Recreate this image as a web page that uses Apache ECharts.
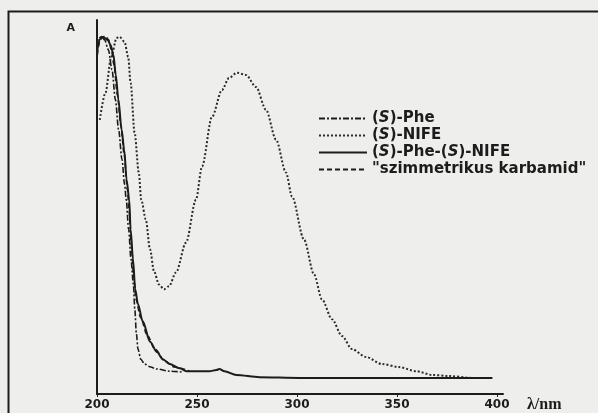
<!DOCTYPE html>
<html>
<head>
<meta charset="utf-8">
<script src="https://cdn.jsdelivr.net/npm/echarts@6/dist/echarts.min.js"></script>
<style>
  html, body { margin: 0; padding: 0; background: #eeeeec; }
  #main { width: 598px; height: 413px; }
</style>
</head>
<body>
<div id="main"></div>
<script>
// UV spektrumok: [lambda (nm), A]
var phe = [
  [200, 0.933], [200.8, 0.952], [202.3, 0.955], [203.8, 0.947], [205.7, 0.92],
  [207.5, 0.867], [209.2, 0.787], [210.8, 0.707], [212.5, 0.627], [213.8, 0.56],
  [214.6, 0.52], [215.8, 0.44], [217, 0.36], [218.2, 0.293], [218.9, 0.227],
  [219.7, 0.16], [220.5, 0.12], [221.9, 0.093], [223.8, 0.08], [226.8, 0.072],
  [229.7, 0.067], [236.3, 0.061], [242.3, 0.059]
];
var nife = [
  [201.4, 0.733], [204.2, 0.805], [207.1, 0.901], [209.8, 0.952], [211.3, 0.955],
  [213.8, 0.941], [215.6, 0.901], [216.8, 0.832], [218.8, 0.699], [220.9, 0.592],
  [222.1, 0.52], [224.4, 0.467], [226.5, 0.387], [228.5, 0.328], [231, 0.293],
  [233.5, 0.28], [236, 0.288], [239.5, 0.325], [244.5, 0.405], [249.5, 0.52],
  [252.5, 0.608], [257.5, 0.741], [262.5, 0.813], [266, 0.845], [270, 0.859],
  [274.5, 0.853], [279.5, 0.821], [284.5, 0.76], [289.5, 0.68], [294.5, 0.592],
  [297.5, 0.528], [303.5, 0.413], [308.5, 0.32], [312.5, 0.253], [317.5, 0.2],
  [322.5, 0.155], [327.5, 0.12], [334.5, 0.099], [342.5, 0.08], [351, 0.072],
  [359.5, 0.061], [367.5, 0.051], [376, 0.048], [387.5, 0.043], [391, 0.043]
];
var phenife = [
  [200.2, 0.92], [201.3, 0.947], [202.3, 0.955], [203.8, 0.952], [205.3, 0.947],
  [206.8, 0.933], [208.2, 0.907], [209.4, 0.853], [210.7, 0.787], [212.3, 0.707],
  [213.6, 0.653], [214.8, 0.573], [216.1, 0.52], [216.8, 0.44], [218, 0.36],
  [219.1, 0.28], [220.5, 0.24], [222.8, 0.195], [226.6, 0.139], [230, 0.112],
  [232.9, 0.093], [236.3, 0.08], [241.3, 0.069], [244.7, 0.061], [251.2, 0.061],
  [256.2, 0.061], [259.7, 0.064], [261.2, 0.067], [263.7, 0.061], [269.7, 0.051],
  [281.2, 0.045], [301.2, 0.043], [351.2, 0.043], [397.7, 0.043]
];
var karbamid = [
  [200.2, 0.907], [201.3, 0.941], [202.8, 0.955], [204.3, 0.957], [205.8, 0.947],
  [207.2, 0.92], [208.5, 0.88], [210.2, 0.8], [211.9, 0.72], [213.6, 0.64],
  [215.2, 0.547], [216, 0.493], [217.1, 0.4], [218.3, 0.32], [219.5, 0.253],
  [221.8, 0.205], [225.1, 0.157], [229, 0.12], [233.9, 0.088], [238.8, 0.072],
  [246.2, 0.061]
];
var names = ['(S)-Phe', '(S)-NIFE', '(S)-Phe-(S)-NIFE', '"szimmetrikus karbamid"'];
var tickLabels = [200, 250, 300, 350, 400];

var myChart = echarts.init(document.getElementById('main'));

var ink = '#1c1c1c';

var option = {
  backgroundColor: '#eeeeec',
  animation: false,
  grid: { left: 97, top: 20, width: 406, height: 375 },
  legend: {
    orient: 'vertical',
    left: 313,
    top: 106,
    itemWidth: 48,
    itemHeight: 15,
    itemGap: 2,
    data: names,
    itemStyle: { opacity: 0 },
    formatter: function (n) {
      return n.replace(/\(S\)/g, '({it|S})');
    },
    textStyle: {
      fontFamily: 'DejaVu Sans',
      fontWeight: 'bold',
      fontSize: 15,
      lineHeight: 15,
      color: ink,
      rich: {
        it: { fontFamily: 'DejaVu Sans', fontWeight: 'bold', fontStyle: 'italic', fontSize: 15, color: ink }
      }
    }
  },
  // keret
  graphic: [{
    type: 'rect',
    shape: { x: 8.5, y: 11.5, width: 640, height: 440 },
    style: { fill: null, stroke: ink, lineWidth: 2 },
    silent: true
  }],
  xAxis: {
    type: 'value',
    min: 200,
    max: 403,
    name: 'λ/nm',
    nameLocation: 'end',
    nameGap: 24,
    nameTextStyle: {
      fontFamily: 'Liberation Serif',
      fontWeight: 'bold',
      fontSize: 16,
      color: ink,
      verticalAlign: 'top',
      padding: [3, 0, 0, 0]
    },
    splitLine: { show: false },
    axisLine: { lineStyle: { color: ink, width: 2 } },
    axisTick: { show: true, length: 3, customValues: tickLabels, lineStyle: { color: ink } },
    axisLabel: {
      customValues: tickLabels,
      margin: 5,
      fontFamily: 'DejaVu Sans',
      fontWeight: 'bold',
      fontSize: 12,
      color: ink
    }
  },
  yAxis: {
    type: 'value',
    min: 0,
    max: 1,
    name: 'A',
    nameLocation: 'end',
    nameGap: -8,
    nameTextStyle: {
      fontFamily: 'DejaVu Sans',
      fontWeight: 'bold',
      fontSize: 11,
      color: ink,
      align: 'right',
      verticalAlign: 'middle',
      padding: [0, 22, 0, 0]
    },
    splitLine: { show: false },
    axisTick: { show: false },
    axisLabel: { show: false },
    axisLine: { onZero: false, lineStyle: { color: ink, width: 2 } }
  },
  series: [
    {
      name: names[0], type: 'line', data: phe, symbol: 'none',
      smooth: 0.3, smoothMonotone: 'x',
      lineStyle: { color: ink, width: 1.6, type: [6, 2, 2, 2] }
    },
    {
      name: names[1], type: 'line', data: nife, symbol: 'none',
      smooth: 0.3, smoothMonotone: 'x',
      lineStyle: { color: '#2a2a2a', width: 2, type: [2, 2] }
    },
    {
      name: names[2], type: 'line', data: phenife, symbol: 'none',
      smooth: 0.3, smoothMonotone: 'x',
      lineStyle: { color: ink, width: 2, type: 'solid' }
    },
    {
      name: names[3], type: 'line', data: karbamid, symbol: 'none',
      smooth: 0.3, smoothMonotone: 'x',
      lineStyle: { color: ink, width: 1.6, type: [5, 3] }
    }
  ]
};

myChart.setOption(option);
</script>
</body>
</html>
